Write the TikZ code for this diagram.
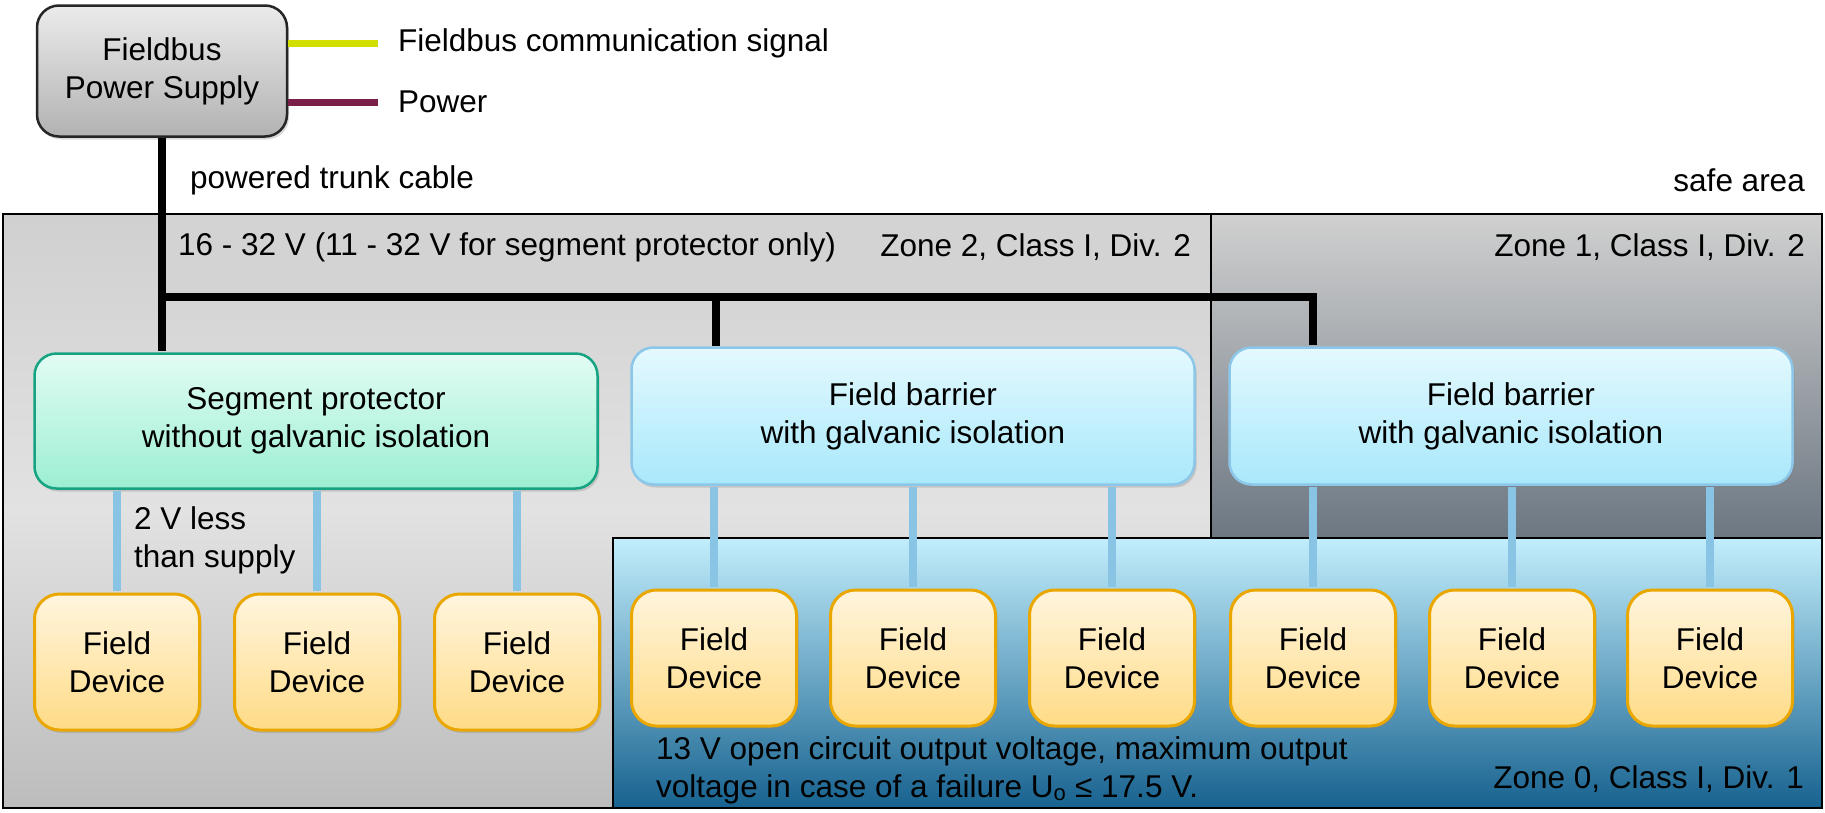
\documentclass[tikz,border=0pt]{standalone}
\usepackage{fontspec}
\setmainfont{Liberation Sans}
\usepackage{tikz}
\usetikzlibrary{positioning,shadows}

\definecolor{sigyellow}{HTML}{D2DE00}
\definecolor{powmaroon}{HTML}{7A1F48}
\definecolor{psTop}{HTML}{EBEBEB}
\definecolor{psBot}{HTML}{B2B2B2}
\definecolor{protTop}{HTML}{E2FCF4}
\definecolor{protBot}{HTML}{9CEFD2}
\definecolor{protLine}{HTML}{16A382}
\definecolor{barTop}{HTML}{E4F9FE}
\definecolor{barBot}{HTML}{A8E8FB}
\definecolor{barLine}{HTML}{8CC6E8}
\definecolor{devTop}{HTML}{FFF5DE}
\definecolor{devBot}{HTML}{FFDB86}
\definecolor{devLine}{HTML}{E9A700}
\definecolor{spurBlue}{HTML}{8AC4E4}
\definecolor{zoneTwoTop}{HTML}{D0D0D0}
\definecolor{zoneTwoMid}{HTML}{E2E2E2}
\definecolor{zoneTwoBot}{HTML}{BCBCBC}
\definecolor{zoneTwoBand}{HTML}{D3D3D3}
\definecolor{zoneOneTop}{HTML}{D0D0D0}
\definecolor{zoneOneBot}{HTML}{6C7782}
\definecolor{zoneZeroTop}{HTML}{C2EEFC}
\definecolor{zoneZeroBot}{HTML}{17628F}

\begin{document}
\begin{tikzpicture}
  [
    x=1pt, y=-1pt,
    txt/.style={inner sep=0pt, font=\fontsize{31.5}{38}\selectfont},
    boxshadow/.style={drop shadow={shadow xshift=2pt, shadow yshift=-3pt, opacity=.3}},
    PsBox/.style={txt, boxshadow, align=center, rounded corners=22pt, draw=black!85, line width=2.5pt, top color=psTop, bottom color=psBot, minimum width=250pt, minimum height=131pt},
    ProtBox/.style={txt, boxshadow, align=center, rounded corners=22pt, draw=protLine, line width=2.5pt, top color=protTop, bottom color=protBot, minimum width=563pt, minimum height=135pt},
    BarBox/.style={txt, boxshadow, align=center, rounded corners=22pt, draw=barLine, line width=2.5pt, top color=barTop, bottom color=barBot, minimum width=563pt, minimum height=137pt},
    DevBox/.style={txt, boxshadow, align=center, rounded corners=25pt, draw=devLine, line width=3pt, top color=devTop, bottom color=devBot, minimum width=165pt, minimum height=136pt},
    trunk/.style={draw=black, line width=8pt, shorten >=1.5pt},
    spur/.style={draw=spurBlue, line width=8pt, shorten >=1.5pt, shorten <=1.5pt}
  ]
  \useasboundingbox (0,0) rectangle (1825,812);
  % Zones
  \fill[top color=zoneTwoTop, bottom color=zoneTwoBot, middle color=zoneTwoMid] (3,214) rectangle (1822,808);
  \fill[zoneTwoBand] (162,214) rectangle (1211,297);
  \fill[top color=zoneOneTop, bottom color=zoneOneBot] (1211,214) rectangle (1822,538);
  \draw[line width=2.5pt, top color=zoneZeroTop, bottom color=zoneZeroBot] (613,538) rectangle (1822,808);
  \draw[line width=2.5pt] (1211,214) -- (1211,538);
  \draw[line width=2.5pt] (3,214) rectangle (1822,808);
  % Nodes
  \node[PsBox] (ps) at (162,71) {\raisebox{-3pt}{Fieldbus}\\\raisebox{-3pt}{Power Supply}};
  \node[txt, anchor=west] (sigtxt) at (398,43) {Fieldbus communication signal};
  \node[txt, anchor=west] (powtxt) at (398,102) {Power};
  \node[txt, anchor=west] (trunktxt) at (190,180) {powered trunk cable};
  \node[txt, anchor=east] (safetxt) at (1805,180) {safe area};
  \node[txt, anchor=west] (volttxt) at (178,247) {16 - 32 V (11 - 32 V for segment protector only)};
  \node[txt, anchor=east] (zonetwotxt) at (1191,247) {Zone 2, Class I, Div. 2};
  \node[txt, anchor=east] (zoneonetxt) at (1805,247) {Zone 1, Class I, Div. 2};
  \node[txt, anchor=east] (zerotxt) at (1804,779) {Zone 0, Class I, Div. 1};
  \node[txt, anchor=west, align=left] (opentxt) at (656,770) {13 V open circuit output voltage, maximum output\\voltage in case of a failure U\textsubscript{o} ≤ 17.5 V.};
  \node[txt, anchor=west, align=left] (lesstxt) at (134,540) {2 V less\\than supply};
  \node[ProtBox] (prot) at (316,421) {Segment protector\\without galvanic isolation};
  \node[BarBox] (bar1) at (913,416) {Field barrier\\with galvanic isolation};
  \node[BarBox] (bar2) at (1511,416) {Field barrier\\with galvanic isolation};
  \foreach \i/\x/\y in {1/117/662, 2/317/662, 3/517/662, 4/714/658, 5/913/658, 6/1112/658, 7/1313/658, 8/1512/658, 9/1710/658}
    \node[DevBox] (d\i) at (\x,\y) {Field\\Device};
  \coordinate (tap) at (162,297);
  % Lines
  \draw[sigyellow, line width=7pt] (ps.east |- sigtxt.west) -- ([xshift=-20pt]sigtxt.west);
  \draw[powmaroon, line width=7pt] (ps.east |- powtxt.west) -- ([xshift=-20pt]powtxt.west);
  \path[trunk] (ps.south) -- (ps.south |- prot.north);
  \path[trunk] (tap) -| ([xshift=85pt]bar2.north west);
  \path[trunk] ([xshift=86pt]bar1.north west) -- ([xshift=86pt]bar1.north west |- tap);
  \foreach \i in {1,2,3}
    \path[spur] (prot.south -| d\i.north) -- (d\i.north);
  \foreach \i in {4,5,6}
    \path[spur] (bar1.south -| d\i.north) -- (d\i.north);
  \foreach \i in {7,8,9}
    \path[spur] (bar2.south -| d\i.north) -- (d\i.north);
\end{tikzpicture}
\end{document}
